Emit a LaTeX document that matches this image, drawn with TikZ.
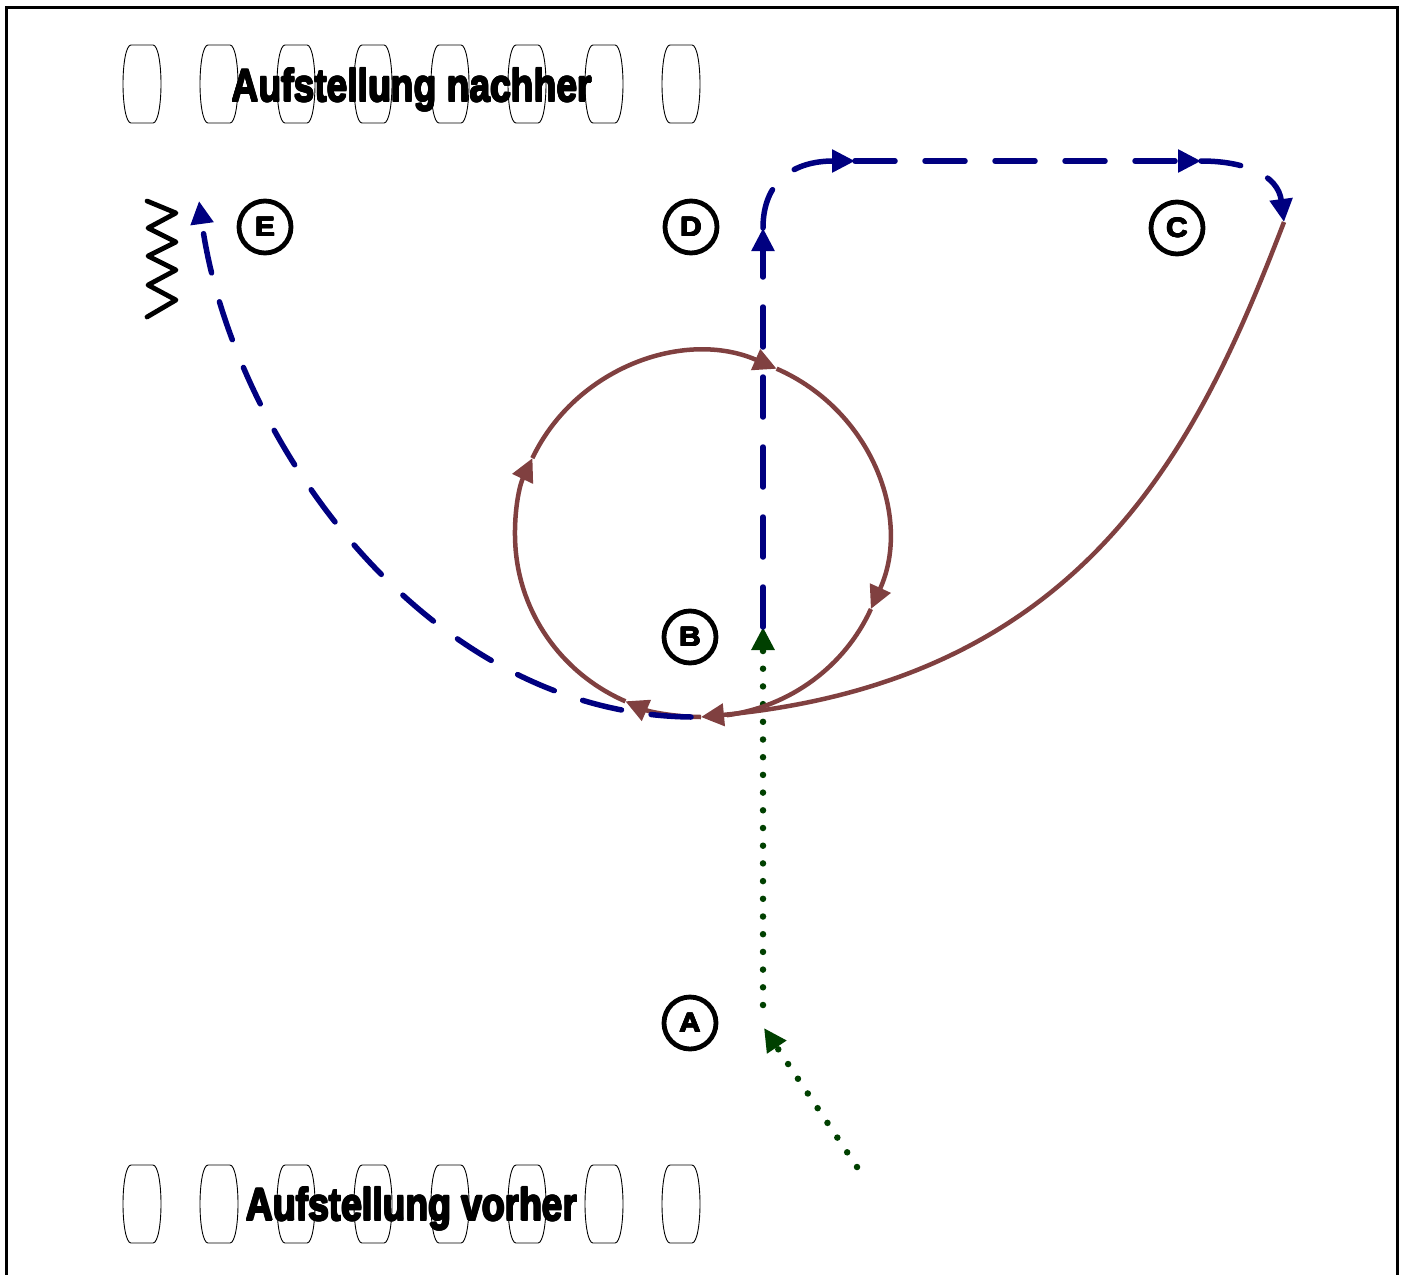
\documentclass[tikz,border=0pt]{standalone}
\usepackage{fontspec}
\setmainfont{Liberation Sans}
\usetikzlibrary{arrows.meta}
\definecolor{navyc}{RGB}{0,0,128}
\definecolor{brownc}{RGB}{128,64,64}
\definecolor{greenc}{RGB}{0,64,0}
% #1 straight offset, #2 diagonal offset, #3 text
\newcommand{\fattext}[3]{\rlap{\hspace{#1}#3}\rlap{\hspace{-#1}#3}\rlap{\raisebox{#1}{#3}}\rlap{\raisebox{-#1}{#3}}\rlap{\hspace{#2}\raisebox{#2}{#3}}\rlap{\hspace{-#2}\raisebox{-#2}{#3}}\rlap{\hspace{#2}\raisebox{-#2}{#3}}\rlap{\hspace{-#2}\raisebox{#2}{#3}}#3}
\tikzset{
  tipA/.tip={Triangle[length=23pt,width=22pt]},
  bluedash/.style={draw=navyc, fill=none, line width=5.5pt, line cap=round, dash pattern=on 40pt off 30pt, -{tipA[fill=navyc]}},
  brownline/.style={draw=brownc, line width=4.5pt, -{tipA[fill=brownc]}},
  greendot/.style={draw=greenc, line width=6.5pt, line cap=round, dash pattern=on 0pt off 17.7pt, -{tipA[fill=greenc]}},
  lettercirc/.style={circle, draw, line width=4.8pt, minimum size=52pt, inner sep=0pt},
  bannertext/.style={anchor=base, inner sep=0pt},
  barrel/.pic={\draw[line width=0.9pt] (-11,-39) -- (11,-39) .. controls (16,-39) and (19,-20) .. (19,0) .. controls (19,20) and (16,39) .. (11,39) -- (-11,39) .. controls (-16,39) and (-19,20) .. (-19,0) .. controls (-19,-20) and (-16,-39) .. cycle;}
}
\newcommand{\circletter}[1]{\bfseries\fontsize{27}{27}\selectfont\scalebox{1.1}[1]{\fattext{0.55pt}{0.4pt}{#1}}}
\newcommand{\bannerline}[1]{\bfseries\fontsize{38}{38}\selectfont\scalebox{0.98}[1.2]{\fattext{0.7pt}{0.5pt}{#1}}}
\begin{document}
\begin{tikzpicture}[x=1pt,y=-1pt]
\useasboundingbox (0,0) rectangle (1402,1274);
\clip (0,0) rectangle (1402,1274);
% frame
\draw[line width=3pt] (6,1300) -- (6,7) -- (1397,7) -- (1397,1300);
% barrels
\foreach \i in {0,...,7} {
  \pic at ({142+77*\i},84) {barrel};
  \pic at ({142+77*\i},1204) {barrel};
}
% banners
\node[bannertext] (nachher) at (412,101.5) {\bannerline{Aufstellung nachher}};
\node[bannertext] (vorher) at (412,1220.5) {\bannerline{Aufstellung vorher}};
% letters
\node[lettercirc] (E) at (265,227) {\circletter{E}};
\node[lettercirc] (D) at (691,227) {\circletter{D}};
\node[lettercirc] (C) at (1177,228) {\circletter{C}};
\node[lettercirc] (B) at (690,637) {\circletter{B}};
\node[lettercirc] (A) at (690,1023) {\circletter{A}};
% zigzag
\draw[line width=4.8pt, line join=round, line cap=round] (147,201) -- (176,213) -- (148,228) -- (176,242) -- (148,256) -- (176,270) -- (148,285) -- (176,300) -- (147,317);
% key points
\coordinate (g0) at (857,1167);
\coordinate (g1) at (764,1028);
\coordinate (g2) at (763,1005);
\coordinate (Bt) at (763,627);
\coordinate (Dt) at (763,228);
\coordinate (c1) at (855,161);
\coordinate (c2) at (1201,161);
\coordinate (Ct) at (1284,222);
\coordinate (bot) at (701,717);
\coordinate (p1) at (625.4,701.3);
\coordinate (p2) at (532.4,458.1);
\coordinate (p3) at (776.6,368.7);
\coordinate (p4) at (870.9,609);
\coordinate (bs) at (691,717);
\coordinate (Et) at (199,201);
% green dotted
\draw[greendot] (g0) -- (g1);
\draw[greendot] (g2) -- (Bt);
% blue dashed B -> D -> C
\draw[bluedash] (Bt) -- (Dt);
\draw[bluedash] (Dt) .. controls (763,180) and (795,161) .. (c1);
\draw[bluedash] (c1) -- (c2);
\draw[bluedash] (c2) .. controls (1245,161) and (1278,175) .. (Ct);
% brown C -> bottom
\draw[brownline] (Ct) .. controls (1200,440) and (1090,680) .. (bot);
% brown circle
\draw[brownline] (bot) arc[start angle=270, end angle=246, x radius=186pt, y radius=182pt];
\draw[brownline] (p1) arc[start angle=246, end angle=155, x radius=186pt, y radius=182pt];
\draw[brownline] (p2) arc[start angle=155, end angle=66, x radius=186pt, y radius=182pt];
\draw[brownline] (p3) arc[start angle=66, end angle=-24, x radius=186pt, y radius=182pt];
\draw[brownline, -] (p4) arc[start angle=-24, end angle=-82, x radius=186pt, y radius=182pt];
% blue dashed to E
\draw[bluedash] (bs) .. controls (420,714) and (230,430) .. (Et);
\end{tikzpicture}
\end{document}
